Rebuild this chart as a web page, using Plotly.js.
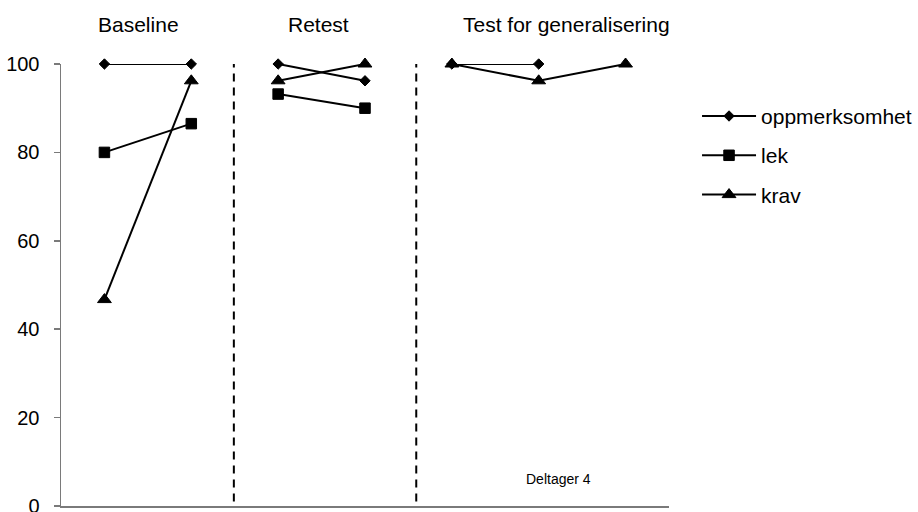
<!DOCTYPE html>
<html>
<head>
<meta charset="utf-8">
<script src="https://cdn.plot.ly/plotly-3.0.1.min.js"></script>
<style>
  html, body { margin: 0; padding: 0; background: #ffffff; }
  #chart { width: 918px; height: 512px; }
</style>
</head>
<body>
<div id="chart"></div>
<script>
// Measurement sessions along the horizontal axis and the phase each belongs to
const sessions = [1, 2, 3, 4, 5, 6, 7];
const sessionPhase = [0, 0, 1, 1, 2, 2, 2];
const phaseNames = ["Baseline", "Retest", "Test for generalisering"];

// Percent scores per session (null = not measured)
const oppmerksomhet = [100, 100, 100, 96.2, 100, 100, null];
const lek = [80, 86.5, 93.2, 90, null, null, null];
const krav = [46.7, 96.2, 96.2, 100, 100, 96.2, 100];

const seriesNames = ["oppmerksomhet", "lek", "krav"];
const yTicks = [0, 20, 40, 60, 80, 100];
const participantLabel = "Deltager 4";

// Break the line between phases by inserting a gap point at each phase change
function withPhaseBreaks(values) {
  const xs = [], ys = [];
  for (let i = 0; i < sessions.length; i++) {
    if (i > 0 && sessionPhase[i] !== sessionPhase[i - 1]) {
      xs.push(null);
      ys.push(null);
    }
    xs.push(sessions[i]);
    ys.push(values[i]);
  }
  return { x: xs, y: ys };
}

const FONT = "Liberation Sans, Arial, Helvetica, sans-serif";
const symbols = ["diamond", "square", "triangle-up"];
const sizes = [8, 10.5, 12];

const traces = [oppmerksomhet, lek, krav].map((vals, k) => {
  const pts = withPhaseBreaks(vals);
  return {
    type: "scatter",
    mode: "lines+markers",
    name: seriesNames[k],
    x: pts.x,
    y: pts.y,
    connectgaps: false,
    cliponaxis: false,
    line: { color: "#000000", width: 2 },
    marker: { symbol: symbols[k], size: sizes[k], color: "#000000",
              line: { color: "#000000", width: 1 } },
    legendgroup: "g" + k
  };
});

// Dashed separators between the phases
const dividers = [2.49, 4.59];
const shapes = dividers.map(xv => ({
  type: "line", xref: "x", yref: "y",
  x0: xv, x1: xv, y0: 1, y1: 100.5,
  line: { color: "#000000", width: 2, dash: "8px,6px" }
}));

// Phase headings above the plot area
const headingX = [1.39, 3.46, 6.32];
const annotations = phaseNames.map((t, i) => ({
  text: t, xref: "x", yref: "paper",
  x: headingX[i], y: 1.09, xanchor: "center", yanchor: "middle",
  showarrow: false, font: { family: FONT, size: 21, color: "#000000" }
}));
annotations.push({
  text: participantLabel, xref: "x", yref: "y",
  x: 6.23, y: 6, xanchor: "center", yanchor: "middle",
  showarrow: false, font: { family: FONT, size: 14, color: "#000000" }
});

const layout = {
  width: 918,
  height: 512,
  margin: { l: 61, r: 249, t: 64, b: 6, pad: 0 },
  paper_bgcolor: "#ffffff",
  plot_bgcolor: "#ffffff",
  font: { family: FONT, color: "#000000" },
  showlegend: true,
  legend: {
    x: 0.7593, xref: "container", xanchor: "left",
    y: 0.8128, yref: "container", yanchor: "top",
    font: { family: FONT, size: 21, color: "#000000" },
    itemwidth: 54,
    tracegroupgap: 9,
    traceorder: "grouped",
    bgcolor: "rgba(0,0,0,0)",
    borderwidth: 0
  },
  xaxis: {
    range: [0.5, 7.5],
    showline: true, linecolor: "#7a7a7a", linewidth: 1.5,
    showticklabels: false, ticks: "",
    showgrid: false, zeroline: false, fixedrange: true
  },
  yaxis: {
    range: [0, 100],
    tickvals: yTicks,
    ticktext: yTicks.map(String),
    ticks: "outside", ticklen: 6, tickwidth: 1.5, tickcolor: "#7a7a7a",
    ticklabelstandoff: 10,
    ticklabeloverflow: "allow",
    showline: true, linecolor: "#7a7a7a", linewidth: 1.5,
    showgrid: false, zeroline: false, fixedrange: true,
    tickfont: { family: FONT, size: 20, color: "#000000" }
  },
  shapes: shapes,
  annotations: annotations
};

Plotly.newPlot("chart", traces, layout, { displayModeBar: false, staticPlot: true });
</script>
</body>
</html>
